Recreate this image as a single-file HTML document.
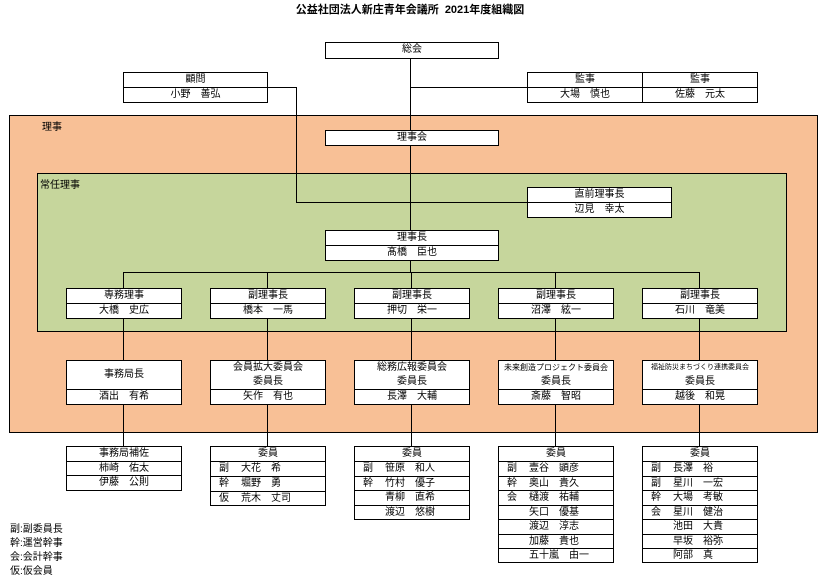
<!DOCTYPE html>
<html><head><meta charset="utf-8"><style>
body{margin:0;width:820px;height:579px;background:#fff;position:relative;overflow:hidden;font-family:"Liberation Sans","Noto Sans CJK JP",sans-serif;font-size:10px;color:#000}
div{position:absolute;box-sizing:border-box}
.b{background:#fff;border:1px solid #000}
.r{position:absolute;left:0;right:0;text-align:center;line-height:14px;height:15px}
.m .r{text-align:left;padding-left:30px}
.m .r:first-child{text-align:center;padding-left:0}
.t{border-top:1px solid #000}
.h{height:1px;background:#000}
.v{width:1px;background:#000}
.p{position:absolute;left:8px}
</style></head><body>
<div style="left:0;top:1px;width:820px;text-align:center;font-weight:bold;font-size:11px">公益社団法人新庄青年会議所&nbsp; 2021年度組織図</div>

<div style="left:9px;top:115px;width:809px;height:318px;background:#f8c096;border:1px solid #000"></div>
<div style="left:42px;top:118px">理事</div>
<div style="left:37px;top:173px;width:750px;height:159px;background:#c6d69c;border:1px solid #000"></div>
<div style="left:40px;top:176px">常任理事</div>

<div class="v" style="left:410px;top:58px;height:72px"></div>
<div class="h" style="left:410px;top:87px;width:118px"></div>
<div class="h" style="left:267px;top:87px;width:30px"></div>
<div class="v" style="left:296px;top:87px;height:116px"></div>
<div class="h" style="left:296px;top:202px;width:232px"></div>
<div class="v" style="left:410px;top:145px;height:85px"></div>
<div class="v" style="left:410px;top:260px;height:12px"></div>
<div class="h" style="left:123px;top:272px;width:577px"></div>
<div class="v" style="left:123px;top:272px;height:174px"></div>
<div class="v" style="left:267px;top:272px;height:174px"></div>
<div class="v" style="left:411px;top:272px;height:174px"></div>
<div class="v" style="left:555px;top:272px;height:174px"></div>
<div class="v" style="left:699px;top:272px;height:174px"></div>

<div class="b" style="left:325px;top:42px;width:174px;height:17px"><div class="r" style="top:0">総会</div></div>
<div class="b" style="left:123px;top:72px;width:145px;height:31px"><div class="r" style="top:0">顧問</div><div class="r t" style="top:14px">小野　善弘</div></div>
<div class="b" style="left:527px;top:72px;width:116px;height:31px"><div class="r" style="top:0">監事</div><div class="r t" style="top:14px">大場　慎也</div></div>
<div class="b" style="left:642px;top:72px;width:116px;height:31px"><div class="r" style="top:0">監事</div><div class="r t" style="top:14px">佐藤　元太</div></div>
<div class="b" style="left:325px;top:130px;width:174px;height:16px"><div class="r" style="top:0">理事会</div></div>
<div class="b" style="left:527px;top:187px;width:145px;height:31px"><div class="r" style="top:0">直前理事長</div><div class="r t" style="top:14px">辺見　幸太</div></div>
<div class="b" style="left:325px;top:230px;width:174px;height:31px"><div class="r" style="top:0">理事長</div><div class="r t" style="top:14px">髙橋　臣也</div></div>

<div class="b" style="left:66px;top:288px;width:116px;height:31px"><div class="r">専務理事</div><div class="r t" style="top:14px">大橋　史広</div></div>
<div class="b" style="left:210px;top:288px;width:116px;height:31px"><div class="r">副理事長</div><div class="r t" style="top:14px">橋本　一馬</div></div>
<div class="b" style="left:354px;top:288px;width:116px;height:31px"><div class="r">副理事長</div><div class="r t" style="top:14px">押切　栄一</div></div>
<div class="b" style="left:498px;top:288px;width:116px;height:31px"><div class="r">副理事長</div><div class="r t" style="top:14px">沼澤　絃一</div></div>
<div class="b" style="left:642px;top:288px;width:116px;height:31px"><div class="r">副理事長</div><div class="r t" style="top:14px">石川　竜美</div></div>

<div class="b" style="left:66px;top:360px;width:116px;height:45px"><div class="r" style="top:7px">事務局長</div><div class="r t" style="top:28px">酒出　有希</div></div>
<div class="b" style="left:210px;top:360px;width:116px;height:45px"><div class="r" style="top:0">会員拡大委員会</div><div class="r" style="top:14px">委員長</div><div class="r t" style="top:28px">矢作　有也</div></div>
<div class="b" style="left:354px;top:360px;width:116px;height:45px"><div class="r" style="top:0">総務広報委員会</div><div class="r" style="top:14px">委員長</div><div class="r t" style="top:28px">長澤　大輔</div></div>
<div class="b" style="left:498px;top:360px;width:116px;height:45px"><div class="r" style="top:0;font-size:8px">未来創造プロジェクト委員会</div><div class="r" style="top:14px">委員長</div><div class="r t" style="top:28px">斎藤　智昭</div></div>
<div class="b" style="left:642px;top:360px;width:116px;height:45px"><div class="r" style="top:0;font-size:7px">福祉防災まちづくり連携委員会</div><div class="r" style="top:14px">委員長</div><div class="r t" style="top:28px">越後　和晃</div></div>

<div class="b" style="left:66px;top:446px;width:116px;height:45px"><div class="r">事務局補佐</div><div class="r t" style="top:14px">柿崎　佑太</div><div class="r t" style="top:28px">伊藤　公則</div></div>

<div class="b m" style="left:210px;top:446px;width:116px;height:60px"><div class="r">委員</div>
<div class="r t" style="top:14px"><span class="p">副</span>大花　希</div>
<div class="r t" style="top:29px"><span class="p">幹</span>堀野　勇</div>
<div class="r t" style="top:44px"><span class="p">仮</span>荒木　丈司</div></div>

<div class="b m" style="left:354px;top:446px;width:116px;height:74px"><div class="r">委員</div>
<div class="r t" style="top:14px"><span class="p">副</span>笹原　和人</div>
<div class="r t" style="top:29px"><span class="p">幹</span>竹村　優子</div>
<div class="r t" style="top:43px">青柳　直希</div>
<div class="r t" style="top:58px">渡辺　悠樹</div></div>

<div class="b m" style="left:498px;top:446px;width:116px;height:117px"><div class="r">委員</div>
<div class="r t" style="top:14px"><span class="p">副</span>壹谷　顕彦</div>
<div class="r t" style="top:29px"><span class="p">幹</span>奥山　貴久</div>
<div class="r t" style="top:43px"><span class="p">会</span>樋渡　祐輔</div>
<div class="r t" style="top:58px">矢口　優基</div>
<div class="r t" style="top:72px">渡辺　淳志</div>
<div class="r t" style="top:87px">加藤　貴也</div>
<div class="r t" style="top:101px">五十嵐　由一</div></div>

<div class="b m" style="left:642px;top:446px;width:116px;height:117px"><div class="r">委員</div>
<div class="r t" style="top:14px"><span class="p">副</span>長澤　裕</div>
<div class="r t" style="top:29px"><span class="p">副</span>星川　一宏</div>
<div class="r t" style="top:43px"><span class="p">幹</span>大場　考敏</div>
<div class="r t" style="top:58px"><span class="p">会</span>星川　健治</div>
<div class="r t" style="top:72px">池田　大貴</div>
<div class="r t" style="top:87px">早坂　裕弥</div>
<div class="r t" style="top:101px">阿部　真</div></div>

<div style="left:10px;top:520px">副:副委員長</div>
<div style="left:10px;top:534px">幹:運営幹事</div>
<div style="left:10px;top:548px">会:会計幹事</div>
<div style="left:10px;top:562px">仮:仮会員</div>
</body></html>
